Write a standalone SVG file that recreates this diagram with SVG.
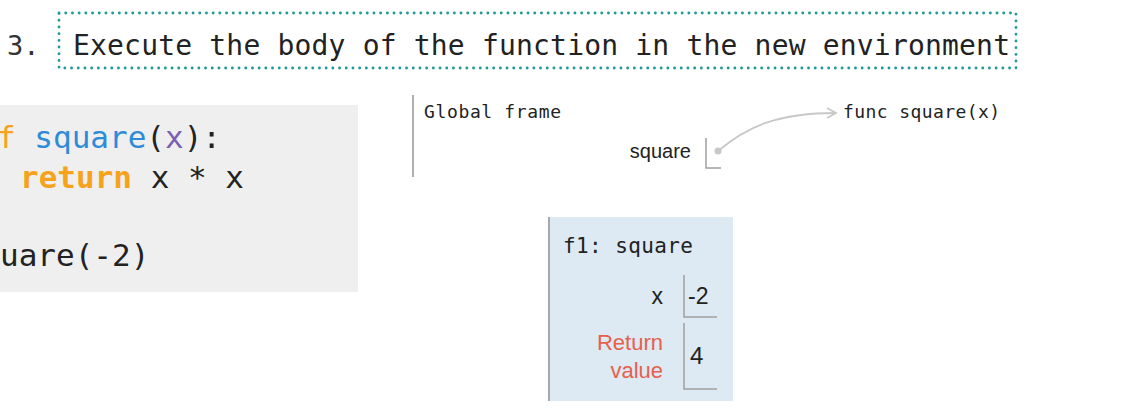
<svg xmlns="http://www.w3.org/2000/svg" width="1136" height="409" viewBox="0 0 1136 409">
<style>
.mono{font-family:"DejaVu Sans Mono","Liberation Mono",monospace;}
.sans{font-family:"Liberation Sans",Arial,sans-serif;}
.slot{fill:none;stroke:#a0a0a0;stroke-width:1.5;}
.kw{fill:#f7a21b;font-weight:bold;}
</style>
<defs>
<marker id="arr" markerWidth="12" markerHeight="12" refX="10" refY="6" orient="auto" markerUnits="userSpaceOnUse">
<path d="M1,1 L10,6 L1,11" fill="none" stroke="#c8c8c8" stroke-width="1.8"/>
</marker>
</defs>
<rect width="1136" height="409" fill="#ffffff"/>

<g id="title">
<text x="7" y="55" class="mono" font-size="27" fill="#333">3.</text>
<rect x="59" y="13" width="957" height="55" fill="none" stroke="#1f9a97" stroke-width="2.8" stroke-dasharray="0.1 6.6" stroke-linecap="round"/>
<text x="73" y="55" class="mono" font-size="28" fill="#222" textLength="937" lengthAdjust="spacing">Execute the body of the function in the new environment</text>
</g>

<g id="code">
<rect x="0" y="105" width="358" height="187" fill="#efefef"/>
<text x="-3" y="148" class="mono" font-size="31" fill="#222"><tspan fill="#f7a21b">f</tspan> <tspan fill="#2d8bd8">square</tspan>(<tspan fill="#7a5fb5">x</tspan>):</text>
<text x="20" y="188" class="mono" font-size="31" fill="#222"><tspan class="kw">return</tspan> x * x</text>
<text x="0" y="266" class="mono" font-size="31" fill="#222">uare(-2)</text>
</g>

<g id="global-frame">
<line x1="413" y1="95" x2="413" y2="177" stroke="#b0b0b0" stroke-width="2"/>
<text x="424" y="118" class="mono" font-size="18" fill="#222" textLength="137" lengthAdjust="spacing">Global frame</text>
<text x="691" y="158" class="sans" font-size="20" fill="#222" text-anchor="end">square</text>
<path class="slot" d="M706,138 V168 H721"/>
<circle cx="718" cy="151" r="3.5" fill="#c8c8c8"/>
</g>

<g id="func-square">
<text x="843" y="118" class="mono" font-size="18" fill="#222" textLength="157" lengthAdjust="spacing">func square(x)</text>
</g>

<g id="f1-frame">
<rect x="548" y="217" width="185" height="184" fill="#dde9f3"/>
<line x1="549" y1="217" x2="549" y2="401" stroke="#a8a8a8" stroke-width="2"/>
<text x="563" y="253" class="mono" font-size="21" fill="#222" textLength="130" lengthAdjust="spacing">f1: square</text>
<text x="663" y="304" class="sans" font-size="23" fill="#222" text-anchor="end">x</text>
<path class="slot" d="M684,275 V317 H717"/>
<text x="688" y="304" class="sans" font-size="23" fill="#222">-2</text>
<text x="663" y="350" class="sans" font-size="22" fill="#e8604c" text-anchor="end">Return</text>
<text x="663" y="378" class="sans" font-size="22" fill="#e8604c" text-anchor="end">value</text>
<path class="slot" d="M684,323 V389 H717"/>
<text x="690" y="364" class="sans" font-size="24" fill="#222">4</text>
</g>

<g id="connectors">
<path d="M718,151 C748,126 778,113 836,113" fill="none" stroke="#c8c8c8" stroke-width="1.8" marker-end="url(#arr)"/>
</g>
</svg>
